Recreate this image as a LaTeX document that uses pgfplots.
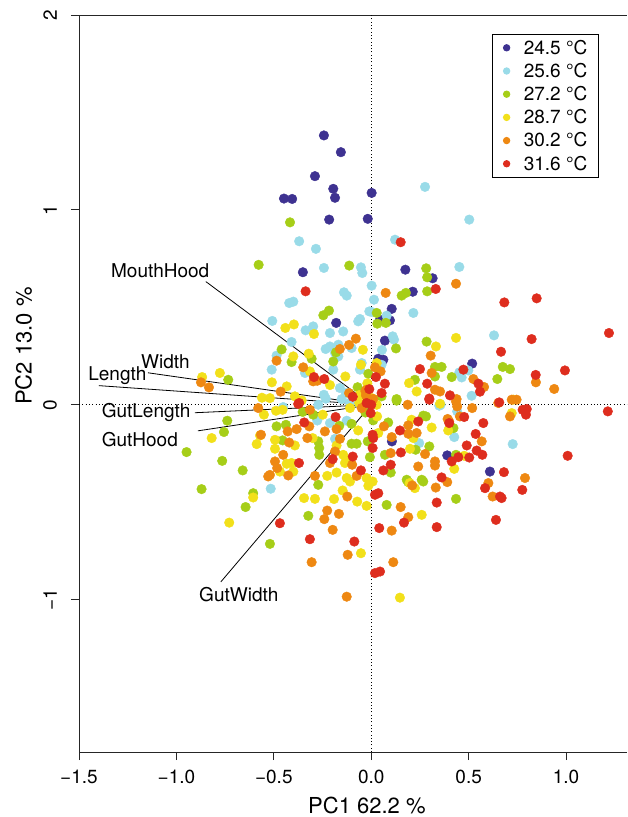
\documentclass[border=0pt]{standalone}
\usepackage{fontspec}
\setmainfont{TeX Gyre Heros}
\usepackage{pgfplots}
\pgfplotsset{compat=1.18}
\definecolor{c1}{RGB}{62,50,145}
\definecolor{c2}{RGB}{153,219,232}
\definecolor{c3}{RGB}{166,206,24}
\definecolor{c4}{RGB}{242,224,26}
\definecolor{c5}{RGB}{238,136,18}
\definecolor{c6}{RGB}{222,45,30}
\begin{document}
\begin{tikzpicture}[font=\fontsize{19}{23}\selectfont]
\path[use as bounding box] (0,0) rectangle (627pt,817pt);
\begin{axis}[
  at={(79pt,65pt)}, anchor=south west,
  scale only axis, width=548pt, height=737pt,
  xmin=-1.5, xmax=1.3126, ymin=-1.782, ymax=2,
  axis x line=box, axis y line=left,
  axis line style={-, line width=0.9pt, black!85},
  xtick pos=bottom, ytick pos=left,
  tick align=outside, major tick length=8pt,
  tick style={line width=0.9pt, black!85},
  xtick={-1.5,-1,-0.5,0,0.5,1},
  xticklabels={−1.5,−1.0,−0.5,0.0,0.5,1.0},
  ytick={-1,0,1,2},
  yticklabels={−1,0,1,2},
  xticklabel style={anchor=north, inner sep=0pt},
  yticklabel style={rotate=90, anchor=south, inner sep=0pt},
  xticklabel shift=10pt,
  yticklabel shift=14pt,
  legend style={at={(0.7536,0.9742)}, anchor=north west,
    draw=black, line width=0.9pt, inner xsep=11pt, inner ysep=5.5pt,
    nodes={inner sep=0pt}, row sep=7.5pt, column sep=14pt,
    font=\fontsize{19}{23}\selectfont},
  legend cell align=left,
  every axis plot/.append style={only marks, mark=*, mark size=4.8pt, mark options={draw=none}},
]
\addlegendimage{only marks, mark=*, mark size=3.2pt, color=c1, mark options={draw=none}}
\addlegendentry{24.5 °C}
\addlegendimage{only marks, mark=*, mark size=3.2pt, color=c2, mark options={draw=none}}
\addlegendentry{25.6 °C}
\addlegendimage{only marks, mark=*, mark size=3.2pt, color=c3, mark options={draw=none}}
\addlegendentry{27.2 °C}
\addlegendimage{only marks, mark=*, mark size=3.2pt, color=c4, mark options={draw=none}}
\addlegendentry{28.7 °C}
\addlegendimage{only marks, mark=*, mark size=3.2pt, color=c5, mark options={draw=none}}
\addlegendentry{30.2 °C}
\addlegendimage{only marks, mark=*, mark size=3.2pt, color=c6, mark options={draw=none}}
\addlegendentry{31.6 °C}

\addplot[color=c1, forget plot] coordinates {
(-0.243,1.382) (-0.156,1.296) (-0.289,1.173) (-0.195,1.108) (-0.186,1.062) (0.002,1.087)
(-0.216,0.950) (-0.018,0.954) (-0.448,1.058) (-0.406,1.056) (-0.351,0.680) (0.175,0.693)
(0.315,0.649) (-0.180,0.420) (0.213,0.580) (0.105,0.492) (0.045,0.437) (0.096,0.433)
(0.070,0.329) (0.036,0.236) (0.062,0.231) (0.518,0.211) (0.106,-0.188) (0.390,-0.260)
(0.609,-0.343)
};
\addplot[color=c2, forget plot] coordinates {
(0.276,1.118) (0.503,0.950) (0.122,0.847) (-0.284,0.800) (-0.370,0.839) (-0.053,0.705)
(-0.046,0.676) (-0.243,0.702) (0.452,0.707) (-0.140,0.577) (-0.126,0.560) (-0.421,0.522)
(-0.400,0.529) (-0.508,0.430) (-0.298,0.402) (-0.337,0.382) (-0.212,0.368) (-0.144,0.376)
(-0.067,0.428) (-0.058,0.440) (-0.010,0.479) (-0.409,0.322) (-0.234,0.286) (-0.212,0.299)
(-0.169,0.308) (-0.486,0.252) (-0.169,0.248) (-0.049,0.214) (-0.511,0.180) (-0.340,0.163)
(-0.195,0.180) (-0.058,0.180) (-0.161,0.086) (-0.243,0.051) (-0.233,0.031) (-0.152,0.029)
(0.002,0.611) (0.014,0.539) (0.216,0.471) (0.002,0.476) (0.079,0.457) (0.630,0.356)
(0.110,0.351) (0.117,0.334) (0.055,0.281) (0.053,0.205) (0.452,0.166) (0.464,0.140)
(0.498,0.176) (0.515,0.046) (-0.452,-0.012) (-0.272,0.000) (-0.277,-0.081) (-0.212,-0.094)
(-0.126,-0.082) (-0.186,-0.175) (-0.516,-0.431) (0.349,-0.005) (0.356,0.000) (0.441,-0.034)
(0.426,-0.166) (0.246,-0.197) (0.726,-0.202) (-0.101,0.291) (-0.186,0.266)
(-0.08,0.02) (-0.11,0.01) (-0.13,0.06)
};
\addplot[color=c3, forget plot] coordinates {
(-0.417,0.936) (-0.578,0.718) (-0.113,0.714) (0.282,0.700) (0.287,0.654) (-0.246,0.459)
(-0.217,0.483) (-0.460,0.284) (-0.409,0.219) (-0.306,0.236) (-0.181,0.269) (-0.195,0.222)
(-0.015,0.159) (0.156,0.560) (0.178,0.574) (0.287,0.582) (0.028,0.471) (0.031,0.416)
(0.075,0.420) (0.284,0.324) (0.127,0.289) (0.327,0.194) (0.361,0.194) (0.327,0.145)
(0.413,0.142) (0.647,0.132) (0.224,0.128) (0.130,0.029) (0.053,0.043) (0.675,0.194)
(0.712,0.183) (-0.352,-0.037) (-0.298,-0.051) (-0.164,-0.108) (-0.486,-0.111) (-0.438,-0.103)
(-0.101,-0.098) (-0.455,-0.183) (-0.272,-0.188) (-0.267,-0.222) (-0.267,-0.257) (-0.101,-0.200)
(-0.075,-0.200) (-0.018,-0.188) (-0.660,-0.337) (-0.272,-0.411) (-0.606,-0.454) (-0.645,-0.525)
(-0.323,-0.570) (0.130,0.021) (0.267,-0.056) (0.281,-0.060) (0.087,-0.091) (0.422,-0.120)
(0.298,-0.214) (0.228,-0.231) (-0.007,-0.269) (0.070,-0.257) (0.435,-0.257) (0.100,-0.348)
(0.182,-0.385) (0.190,-0.397) (0.259,-0.385) (0.267,-0.394) (0.435,-0.483) (0.079,-0.514)
(-0.739,-0.082) (-0.756,-0.140) (-0.948,-0.243) (-0.765,-0.288) (-0.871,-0.433) (-0.520,-0.714)
(-0.734,0.128) (-0.03,-0.04) (0.01,-0.08) (-0.07,0.09)
};
\addplot[color=c4, forget plot] coordinates {
(-0.397,0.412) (-0.441,0.394) (-0.294,0.363) (-0.043,0.282) (-0.400,0.248) (-0.321,0.262)
(-0.053,0.205) (-0.315,0.171) (-0.133,0.145) (-0.212,0.101) (-0.510,0.115) (-0.434,0.094)
(-0.561,0.036) (-0.520,0.034) (-0.392,0.043) (-0.357,0.022) (-0.062,0.009) (0.435,0.343)
(0.332,0.299) (0.028,0.214) (0.194,0.111) (0.233,0.068) (0.002,0.034) (0.353,0.005)
(0.729,0.026) (0.721,-0.043) (-0.551,-0.051) (-0.489,-0.031) (-0.455,-0.026) (-0.249,-0.051)
(-0.067,-0.132) (-0.571,-0.158) (-0.588,-0.202) (-0.494,-0.180) (-0.494,-0.226) (-0.392,-0.209)
(-0.301,-0.171) (-0.178,-0.209) (-0.144,-0.257) (-0.126,-0.282) (-0.434,-0.303) (-0.409,-0.299)
(-0.469,-0.343) (-0.400,-0.343) (-0.135,-0.299) (-0.178,-0.348) (-0.226,-0.365) (-0.126,-0.376)
(-0.109,-0.394) (-0.024,-0.376) (-0.147,-0.440) (-0.015,-0.416) (-0.345,-0.479) (-0.289,-0.483)
(-0.191,-0.484) (-0.072,-0.497) (-0.024,-0.519) (0.028,0.000) (0.207,-0.077) (0.310,-0.117)
(0.395,-0.132) (0.036,-0.145) (0.216,-0.171) (0.199,-0.226) (0.477,-0.262) (0.426,-0.329)
(0.197,-0.402) (0.224,-0.428) (0.007,-0.394) (0.259,-0.565) (-0.053,-0.762) (0.147,-0.990)
(-0.868,0.142) (-0.777,0.163) (-0.819,-0.171) (-0.606,-0.476) (-0.729,-0.605)
(-0.109,-0.017) (0.03,-0.06) (-0.06,0.05) (-0.02,0.11)
};
\addplot[color=c5, forget plot] coordinates {
(-0.079,0.339) (-0.114,0.307) (-0.161,0.286) (-0.486,0.226) (-0.349,0.192) (-0.298,0.120)
(-0.277,0.123) (-0.465,0.067) (-0.114,0.060) (-0.024,0.077) (-0.027,0.048) (0.435,0.621)
(0.074,0.574) (0.305,0.252) (0.019,0.192) (0.048,0.171) (0.310,0.163) (0.524,0.132)
(0.579,0.091) (0.327,0.077) (0.353,0.068) (0.438,0.029) (0.845,0.115) (0.939,0.081)
(0.652,0.009) (0.721,0.026) (0.746,0.026) (-0.580,-0.017) (-0.315,-0.026) (-0.178,-0.125)
(-0.318,-0.111) (-0.383,-0.125) (-0.429,-0.137) (-0.238,-0.137) (-0.566,-0.154) (-0.421,-0.194)
(-0.328,-0.171) (-0.161,-0.175) (-0.186,-0.240) (-0.452,-0.257) (-0.212,-0.299) (-0.494,-0.291)
(-0.483,-0.325) (-0.520,-0.360) (-0.529,-0.368) (-0.426,-0.363) (-0.098,-0.308) (-0.289,-0.365)
(-0.075,-0.365) (-0.123,-0.471) (-0.226,-0.543) (-0.166,-0.560) (-0.241,-0.587) (0.187,0.000)
(0.435,0.017) (0.441,-0.009) (0.518,-0.017) (0.392,-0.073) (0.400,-0.086) (0.455,-0.060)
(0.065,-0.111) (0.190,-0.106) (0.190,-0.149) (0.233,-0.145) (0.567,-0.188) (0.105,-0.166)
(0.100,-0.248) (0.276,-0.253) (0.327,-0.291) (0.327,-0.312) (0.241,-0.317) (0.390,-0.397)
(0.210,-0.414) (0.331,-0.425) (0.601,-0.402) (0.623,-0.471) (0.151,-0.525) (0.190,-0.577)
(0.712,-0.060) (0.789,-0.376) (0.105,-0.646) (-0.198,-0.642) (-0.121,-0.770) (-0.306,-0.808)
(0.113,-0.808) (-0.126,-0.985) (-0.874,0.115) (-0.833,0.089)
(-0.049,-0.017) (-0.03,0.07) (0.01,0.03)
};
\addplot[color=c6, forget plot] coordinates {
(-0.337,0.582) (0.151,0.834) (0.331,0.594) (-0.294,0.142) (-0.241,0.132) (-0.095,0.041)
(-0.024,0.009) (-0.370,0.009) (0.250,0.183) (0.473,0.180) (0.024,0.142) (0.550,0.108)
(0.558,0.067) (0.070,0.108) (0.053,0.060) (0.287,0.108) (0.404,0.048) (0.298,0.032)
(0.657,0.012) (0.683,0.525) (0.849,0.546) (0.823,0.337) (1.220,0.368) (0.666,0.272)
(0.994,0.176) (0.844,0.153) (-0.375,0.004) (-0.183,-0.063) (-0.344,-0.091) (-0.095,-0.266)
(-0.198,-0.279) (-0.371,-0.299) (-0.053,-0.337) (-0.469,-0.608) (0.298,0.026) (-0.003,-0.043)
(0.400,-0.094) (0.477,-0.063) (0.575,-0.094) (0.241,-0.086) (0.147,-0.132) (0.007,-0.154)
(0.010,-0.171) (0.536,-0.150) (0.490,-0.209) (0.007,-0.222) (0.152,-0.245) (0.541,-0.235)
(0.570,-0.257) (0.447,-0.269) (0.413,-0.291) (0.503,-0.271) (0.100,-0.308) (0.062,-0.337)
(0.361,-0.373) (0.036,-0.454) (0.019,-0.462) (0.584,-0.428) (0.661,-0.471) (0.336,-0.502)
(0.168,-0.605) (0.640,-0.591) (1.214,-0.034) (0.777,-0.026) (0.798,-0.022) (0.794,-0.051)
(1.008,-0.262) (0.681,-0.346) (0.775,-0.437) (0.669,-0.479) (0.336,-0.628) (0.041,-0.633)
(-0.315,-0.690) (-0.087,-0.702) (0.019,-0.864) (0.045,-0.856) (-0.01,0.08) (0.0,0.0)
};
% reference lines
\addplot[forget plot, no marks, sharp plot, black, line width=0.6pt, dash pattern=on 0.9pt off 2.4pt] coordinates {(0,-1.782) (0,2)};
\addplot[forget plot, no marks, sharp plot, black, line width=0.6pt, dash pattern=on 0.9pt off 2.4pt] coordinates {(-1.5,0) (1.3126,0)};
% loading lines
\addplot[forget plot, no marks, sharp plot, black, line width=0.8pt] coordinates {(0,0) (-0.849,0.632)};
\addplot[forget plot, no marks, sharp plot, black, line width=0.8pt] coordinates {(0,0) (-1.146,0.164)};
\addplot[forget plot, no marks, sharp plot, black, line width=0.8pt] coordinates {(0,0) (-1.398,0.098)};
\addplot[forget plot, no marks, sharp plot, black, line width=0.8pt] coordinates {(0,0) (-0.905,-0.041)};
\addplot[forget plot, no marks, sharp plot, black, line width=0.8pt] coordinates {(0,0) (-0.890,-0.134)};
\addplot[forget plot, no marks, sharp plot, black, line width=0.8pt] coordinates {(0,0) (-0.772,-0.909)};
\node[anchor=base west, inner sep=0pt] at (axis cs:-1.336,0.651) {MouthHood};
\node[anchor=base west, inner sep=0pt] at (axis cs:-1.182,0.188) {Width};
\node[anchor=base west, inner sep=0pt] at (axis cs:-1.453,0.123) {Length};
\node[anchor=base west, inner sep=0pt] at (axis cs:-1.384,-0.063) {GutLength};
\node[anchor=base west, inner sep=0pt] at (axis cs:-1.384,-0.214) {GutHood};
\node[anchor=base west, inner sep=0pt] at (axis cs:-0.884,-1.010) {GutWidth};
\end{axis}
\node[anchor=base west, inner sep=0pt, font=\fontsize{22}{26}\selectfont] at (308pt,4pt) {PC1 62.2 \%};
\node[rotate=90, anchor=base west, inner sep=0pt, font=\fontsize{22}{26}\selectfont] at (31.5pt,412pt) {PC2 13.0 \%};
\end{tikzpicture}
\end{document}
